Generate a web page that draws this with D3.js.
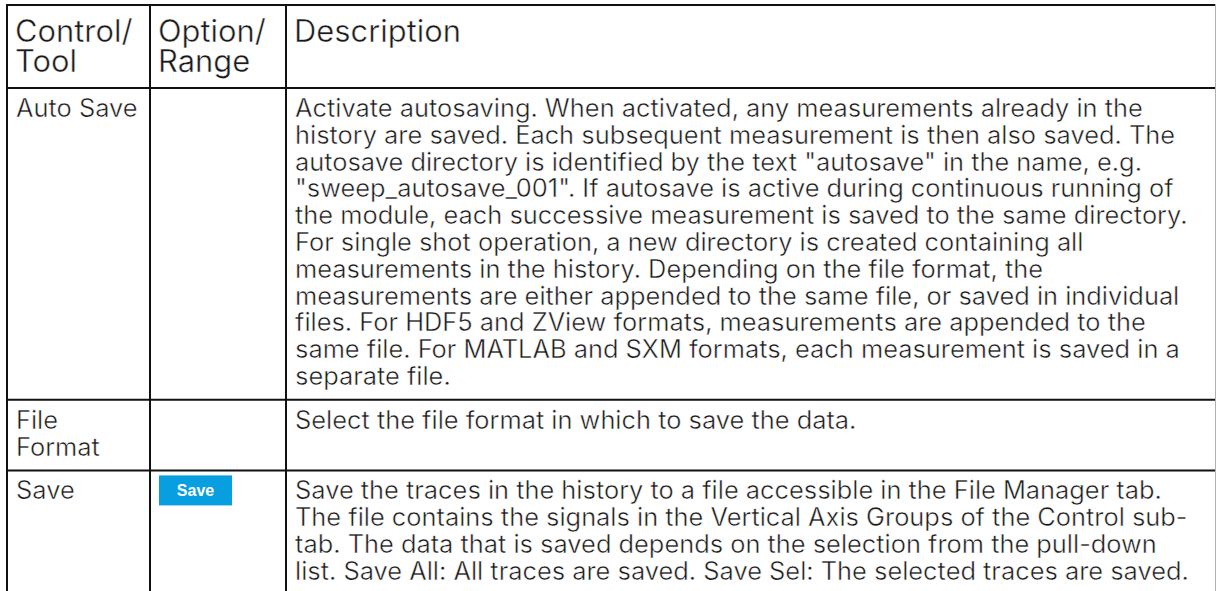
<!DOCTYPE html>
<html><head><meta charset="utf-8">
<script src="https://cdn.jsdelivr.net/npm/d3@7"></script>
<style>
html,body{margin:0;padding:0;background:#fff;overflow:hidden}
text.cell{font-family:Inter,"Noto Sans",sans-serif}
</style></head><body>
<svg id="chart" width="1216" height="591"></svg>
<script>
// ---- table content ----
const headers = [["Control/", "Tool"], ["Option/", "Range"], ["Description"]];
const controls = [["Auto Save"], ["File", "Format"], ["Save"]];
const options = ["", "", "Save"];
const descAutoSave = [
  "Activate autosaving. When activated, any measurements already in the",
  "history are saved. Each subsequent measurement is then also saved. The",
  "autosave directory is identified by the text \"autosave\" in the name, e.g.",
  "\"sweep_autosave_001\". If autosave is active during continuous running of",
  "the module, each successive measurement is saved to the same directory.",
  "For single shot operation, a new directory is created containing all",
  "measurements in the history. Depending on the file format, the",
  "measurements are either appended to the same file, or saved in individual",
  "files. For HDF5 and ZView formats, measurements are appended to the",
  "same file. For MATLAB and SXM formats, each measurement is saved in a",
  "separate file."
];
const descFileFormat = ["Select the file format in which to save the data."];
const descSave = [
  "Save the traces in the history to a file accessible in the File Manager tab.",
  "The file contains the signals in the Vertical Axis Groups of the Control sub-",
  "tab. The data that is saved depends on the selection from the pull-down",
  "list. Save All: All traces are saved. Save Sel: The selected traces are saved."
];
const descriptions = [descAutoSave, descFileFormat, descSave];
const columns = ["control", "option", "description"];

// ---- layout ----
const W = 1216, H = 591;
const svg = d3.select("#chart");
const colEdge = d3.scaleOrdinal().domain(columns.concat(["end"])).range([7, 150, 286, 1215]);
const bodyLH = 26.8, headLH = 30;
const bodyPad = 9, headPad = 8;
const textColor = "#1a1a1a";

function measure(str, size) {
  const t = svg.append("text").attr("class", "cell").attr("font-size", size).text(str);
  const w = t.node().getComputedTextLength(); t.remove(); return w;
}
const bodySize = 22 * 848 / measure(descAutoSave[0], 22);
const headSize = 28 * 167 / measure("Description", 28);

function styleText(sel, size) {
  return sel.attr("class", "cell").attr("font-size", size).attr("fill", textColor)
    .attr("stroke", "#fff").attr("stroke-width", 0.45).style("paint-order", "fill");
}

const headTop = 5, headH = 83;
const rowH = descriptions.map((d, i) => Math.max(d.length, controls[i].length) * bodyLH + 17);
const rowTop = [headTop + headH];
rowH.forEach((h, i) => rowTop.push(rowTop[i] + h));

const g = svg.append("g");

// header
headers.forEach((lines, ci) => {
  const x = colEdge(columns[ci]) + headPad;
  const t = styleText(g.append("text"), headSize).attr("x", x).attr("y", headTop + 37);
  lines.forEach((l, li) => t.append("tspan").attr("x", x).attr("dy", li === 0 ? 0 : headLH).text(l));
});

// body
descriptions.forEach((desc, ri) => {
  const y0 = rowTop[ri] + 29;
  const cx = colEdge("control") + bodyPad;
  const c = styleText(g.append("text"), bodySize).attr("x", cx).attr("y", y0);
  controls[ri].forEach((l, li) => c.append("tspan").attr("x", cx).attr("dy", li === 0 ? 0 : bodyLH).text(l));
  const dx = colEdge("description") + bodyPad;
  const d = styleText(g.append("text"), bodySize).attr("x", dx).attr("y", y0);
  desc.forEach((l, li) => d.append("tspan").attr("x", dx).attr("dy", li === 0 ? 0 : bodyLH).text(l));
  if (options[ri]) {
    const bx = colEdge("option") + 9, by = rowTop[ri] + 5;
    g.append("rect").attr("x", bx).attr("y", by).attr("width", 73).attr("height", 30)
      .attr("fill", "#079fe0");
    g.append("text").attr("x", bx + 36.5).attr("y", by + 20.5).attr("text-anchor", "middle")
      .style("font-family", "'Liberation Sans',Arial,sans-serif")
      .attr("font-size", 16).attr("font-weight", 600).attr("fill", "#fff").text(options[ri]);
  }
});

// grid
const lineColor = "#111";
const hLines = [headTop].concat(rowTop.slice(0, rowTop.length - 1));
g.selectAll("line.h").data(hLines).join("line").attr("class", "h")
  .attr("x1", colEdge("control") - 1).attr("x2", W).attr("y1", d => d).attr("y2", d => d)
  .attr("stroke", lineColor).attr("stroke-width", 2);
g.selectAll("line.v").data(columns).join("line").attr("class", "v")
  .attr("x1", d => colEdge(d)).attr("x2", d => colEdge(d)).attr("y1", headTop - 1).attr("y2", H)
  .attr("stroke", lineColor).attr("stroke-width", 2);
g.append("line").attr("x1", 1215.5).attr("x2", 1215.5).attr("y1", headTop - 1).attr("y2", H)
  .attr("stroke", "#b0b0b0").attr("stroke-width", 1);
</script>
</body></html>
